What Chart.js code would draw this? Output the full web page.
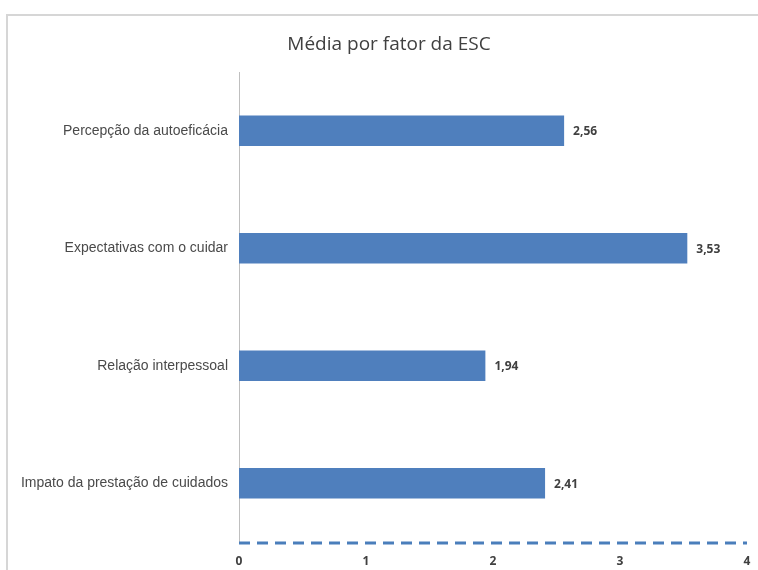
<!DOCTYPE html>
<html>
<head>
<meta charset="utf-8">
<script src="https://cdn.jsdelivr.net/npm/chart.js@4/dist/chart.umd.min.js"></script>
<style>
  html, body { margin: 0; padding: 0; background: #fff; overflow: hidden; }
  #wrap { position: relative; width: 758px; height: 570px; }
  #frame { position: absolute; left: 6px; top: 14px; width: 800px; height: 600px; border: 2px solid #d6d6d6; box-sizing: border-box; }
  canvas { position: absolute; left: 0; top: 0; }
</style>
</head>
<body>
<div id="wrap">
  <div id="frame"></div>
  <canvas id="chart" width="758" height="570"></canvas>
</div>
<script>
const chartTitle = 'Média por fator da ESC';
const categories = [
  'Percepção da autoeficácia',
  'Expectativas com o cuidar',
  'Relação interpessoal',
  'Impato da prestação de cuidados'
];
const means = [2.56, 3.53, 1.94, 2.41];
const xTicks = [0, 1, 2, 3, 4];

// value labels ("2,56"), title, and the dashed x axis line
const extras = {
  id: 'extras',
  afterDatasetsDraw(chart) {
    const ctx = chart.ctx;
    const meta = chart.getDatasetMeta(0);
    ctx.save();
    ctx.font = 'bold 12px "Open Sans", sans-serif';
    ctx.fillStyle = '#404040';
    ctx.textAlign = 'left';
    ctx.textBaseline = 'middle';
    meta.data.forEach((bar, i) => {
      ctx.fillText(means[i].toFixed(2).replace('.', ','), bar.x + 9, bar.y + 1);
    });
    ctx.restore();
  },
  afterDraw(chart) {
    const ctx = chart.ctx;
    const x = chart.scales.x;
    const y = chart.chartArea.bottom + 1;
    ctx.save();
    ctx.strokeStyle = '#4a7ebb';
    ctx.lineWidth = 3;
    ctx.setLineDash([11, 7]);
    ctx.beginPath();
    ctx.moveTo(x.getPixelForValue(0), y);
    ctx.lineTo(x.getPixelForValue(4), y);
    ctx.stroke();
    ctx.restore();

    ctx.save();
    ctx.font = '19px "Open Sans", sans-serif';
    ctx.fillStyle = '#404040';
    ctx.textAlign = 'center';
    ctx.textBaseline = 'middle';
    ctx.fillText(chartTitle, 389, 45);
    ctx.restore();
  }
};

new Chart(document.getElementById('chart'), {
  type: 'bar',
  data: {
    labels: categories,
    datasets: [{
      data: means,
      backgroundColor: '#4f7fbd',
      borderWidth: 0,
      categoryPercentage: 1,
      barPercentage: 0.26
    }]
  },
  options: {
    indexAxis: 'y',
    responsive: false,
    animation: false,
    layout: { padding: { left: 0, right: 11, top: 72, bottom: 0 } },
    plugins: {
      legend: { display: false },
      tooltip: { enabled: false },
      title: { display: false }
    },
    scales: {
      x: {
        min: 0,
        max: 4,
        afterBuildTicks(scale) { scale.ticks = xTicks.map(v => ({ value: v })); },
        afterFit(scale) {
          scale.height = 28;
          scale.paddingLeft = 0;
          scale.paddingRight = 0;
        },
        grid: { display: false, drawTicks: false },
        border: { display: false },
        ticks: {
          padding: 12,
          color: '#404040',
          font: { family: '"Open Sans", sans-serif', size: 12, weight: 'bold' }
        }
      },
      y: {
        afterFit(scale) { scale.width = 239; },
        grid: { display: false, drawTicks: false },
        border: { display: true, color: '#bfbfbf', width: 1 },
        ticks: {
          padding: 11,
          color: '#4a4a4a',
          font: { family: '"Liberation Sans", Arial, sans-serif', size: 14 }
        }
      }
    }
  },
  plugins: [extras]
});
</script>
</body>
</html>
